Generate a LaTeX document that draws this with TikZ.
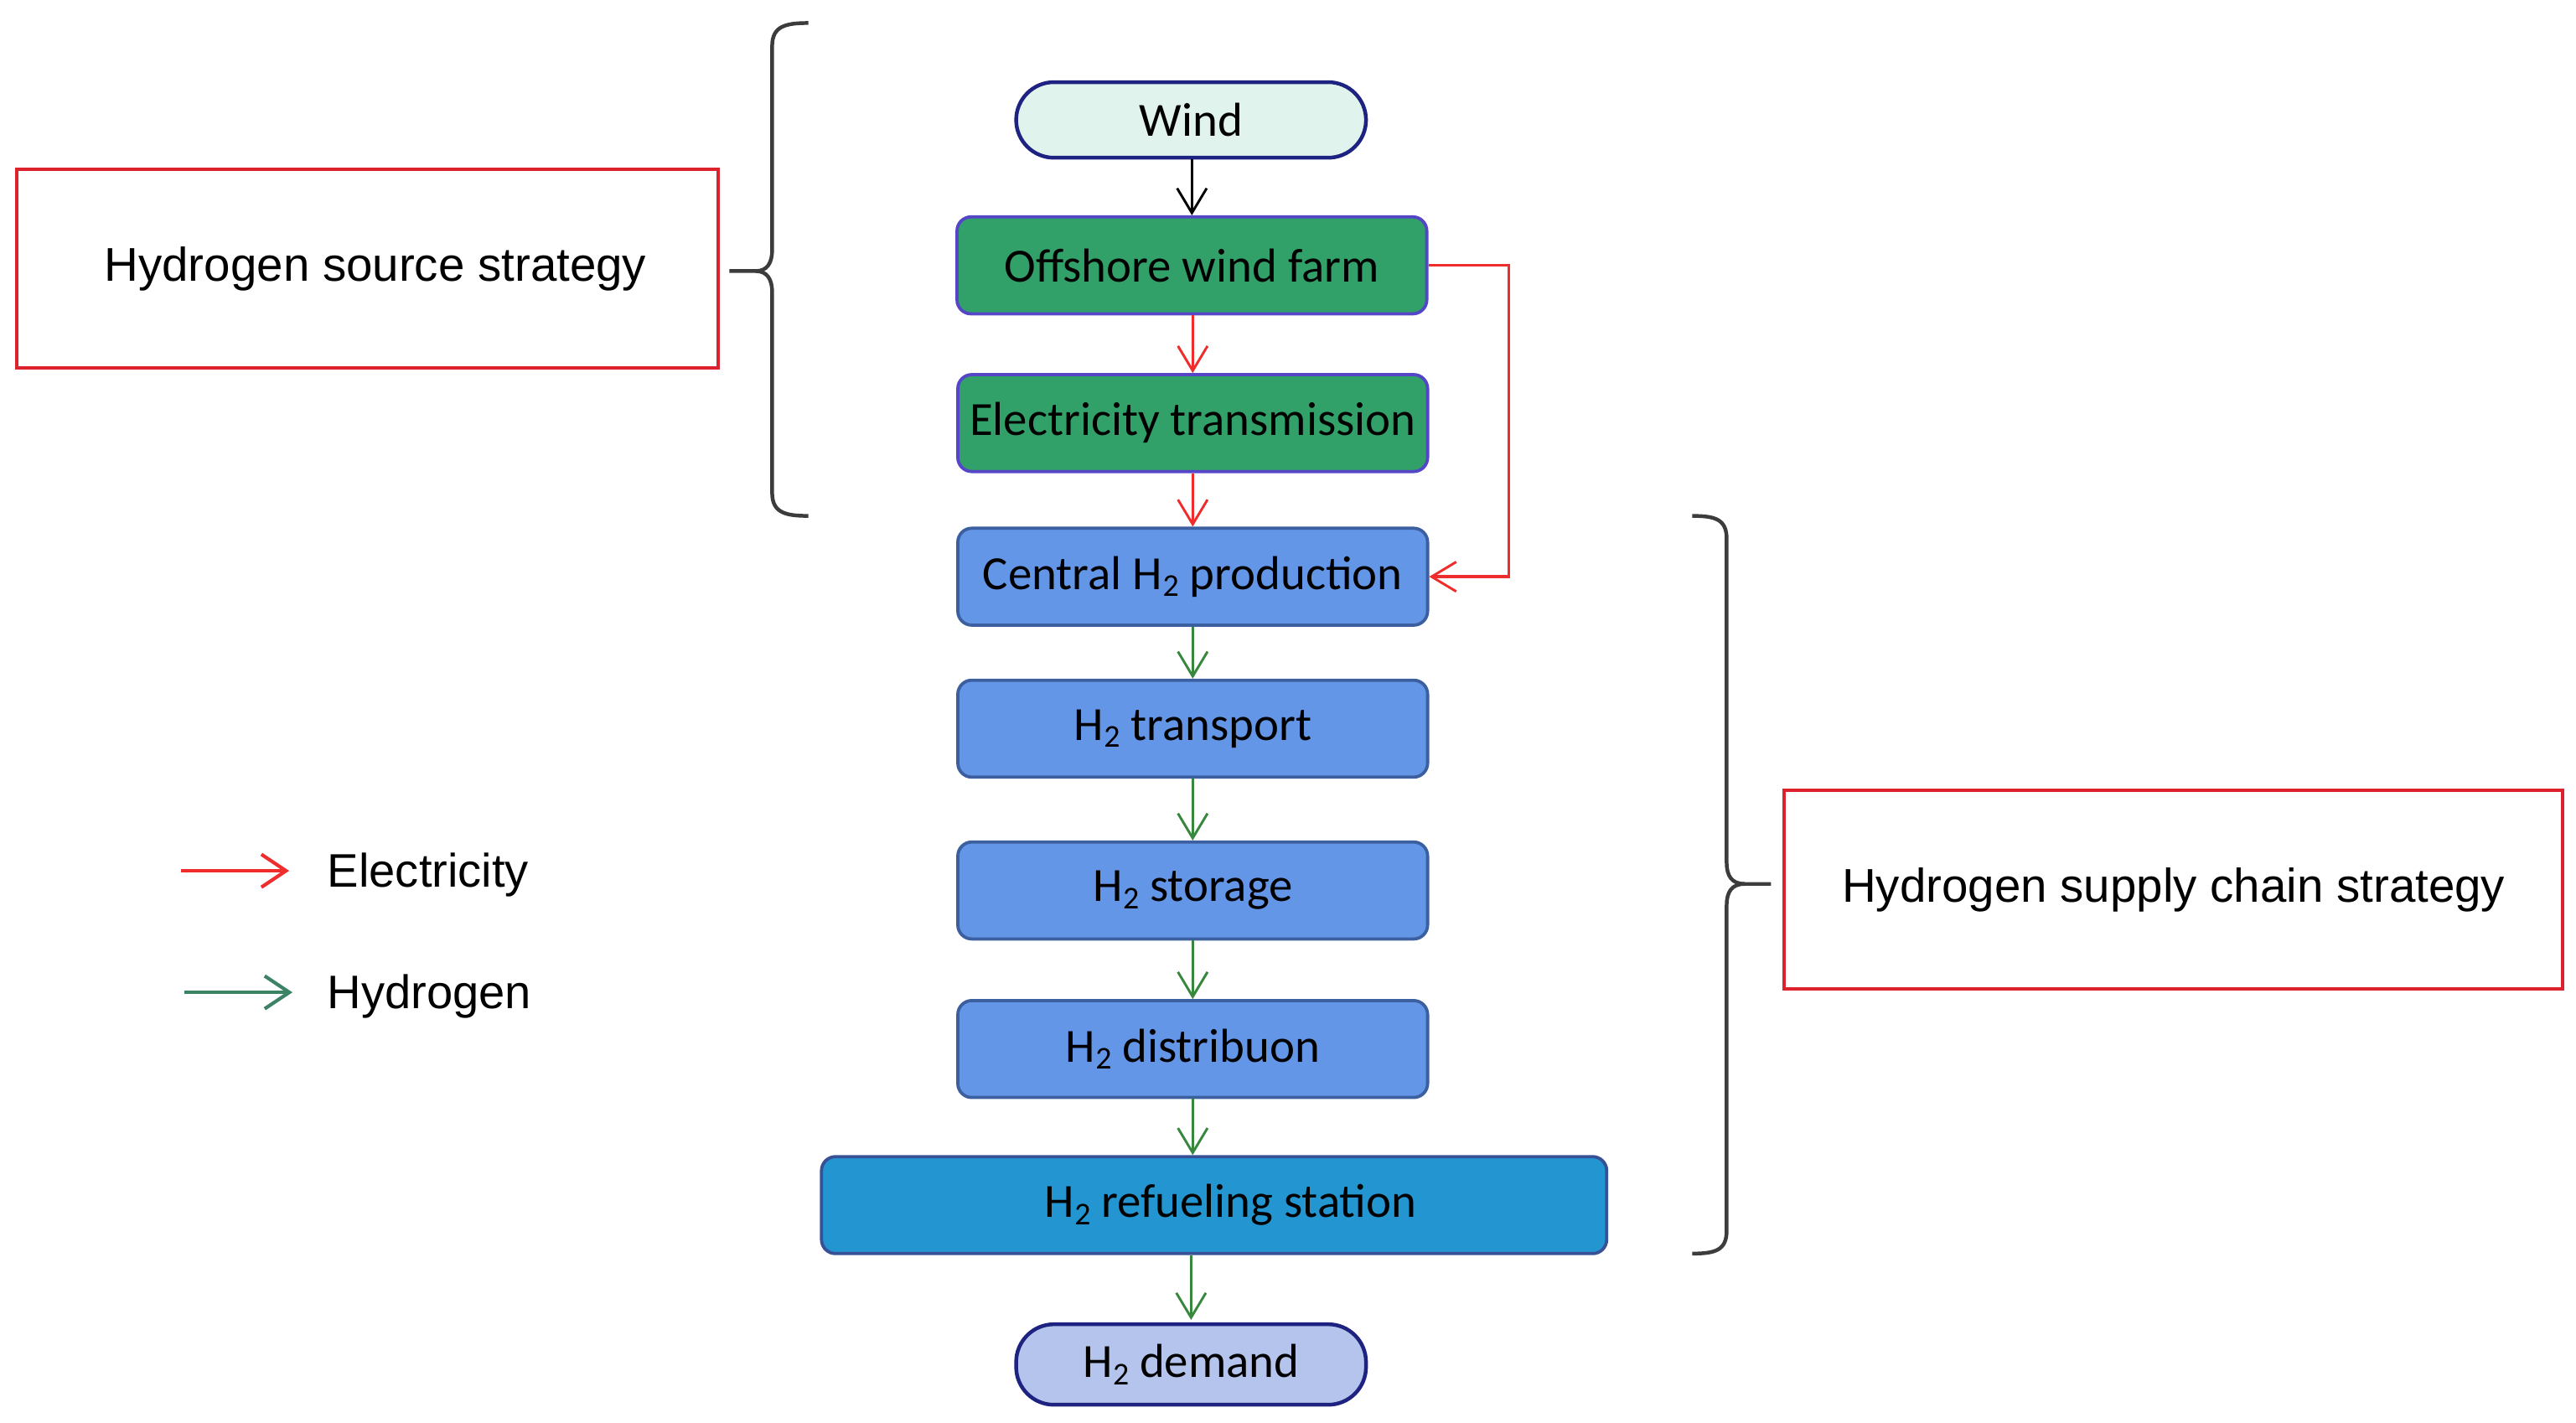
\documentclass[tikz,border=0pt]{standalone}
\usepackage{fontspec}
\setmainfont{Carlito}
\newfontfamily\arialf{Liberation Sans}
\usetikzlibrary{arrows.meta}

\definecolor{gfill}{RGB}{50,160,105}
\definecolor{gborder}{RGB}{85,70,200}
\definecolor{bfill}{RGB}{100,150,232}
\definecolor{bborder}{RGB}{60,95,160}
\definecolor{rfill}{RGB}{35,150,210}
\definecolor{rborder}{RGB}{55,80,150}
\definecolor{windfill}{RGB}{225,243,237}
\definecolor{demfill}{RGB}{180,196,236}
\definecolor{pillborder}{RGB}{30,35,130}
\definecolor{elred}{RGB}{240,45,45}
\definecolor{hygreen}{RGB}{55,135,60}
\definecolor{leggreen}{RGB}{60,130,100}
\definecolor{boxred}{RGB}{220,35,45}
\definecolor{bracegray}{RGB}{60,60,60}

\newcommand{\Htwo}{H\kern0.01em\raisebox{-0.32ex}{\fontsize{11}{11}\selectfont 2}}

\begin{document}
\begin{tikzpicture}[x=0.02cm,y=-0.02cm,
  every node/.style={font=\fontsize{16.5}{18}\selectfont, inner sep=0pt},
  flowbox/.style={draw, line width=1.1pt, rounded corners=0.17cm, minimum width=5.72cm, minimum height=1.18cm},
  greenbox/.style={flowbox, fill=gfill, draw=gborder},
  bluebox/.style={flowbox, fill=bfill, draw=bborder},
  pill/.style={draw=pillborder, line width=1.3pt, rounded corners=0.46cm, minimum width=4.26cm, minimum height=0.92cm},
  stratbox/.style={draw=boxred, line width=1.2pt, minimum height=2.42cm, font=\arialf\fontsize{16.4}{18}\selectfont},
  legtext/.style={anchor=west, font=\arialf\fontsize{16.3}{18}\selectfont},
  conn/.style={line width=0.85pt, -{Straight Barb[length=0.3cm, width=0.36cm, line width=0.85pt]}},
  legarrow/.style={line width=1.3pt, -{Straight Barb[length=0.3cm, width=0.4cm, line width=1.2pt]}},
  brace/.style={draw=bracegray, line width=1.3pt}
]
\useasboundingbox (0,0) rectangle (1568,866);

% flow nodes
\node[pill, fill=windfill] (wind) at (725,73) {Wind};
\node[greenbox] (off) at (725.5,161.5) {\raisebox{-0.04cm}{Offshore wind farm}};
\node[greenbox] (elec) at (726,257.5) {\raisebox{-0.03cm}{Electricity transmission}};
\node[bluebox] (cent) at (726,351) {Central \Htwo{} production};
\node[bluebox] (trans) at (726,443.5) {\Htwo{} transport};
\node[bluebox] (stor) at (726,542) {\Htwo{} storage};
\node[bluebox] (dist) at (726,638.5) {\Htwo{} distribuon};
\node[flowbox, fill=rfill, draw=rborder, minimum width=9.56cm] (refuel) at (739,733.5) {\hspace{0.4cm}\Htwo{} refueling station};
\node[pill, fill=demfill, minimum height=0.98cm] (demand) at (725,830.5) {\Htwo{} demand};

% connectors
\draw[conn, black] (off.north |- wind.south) -- (off.north);
\draw[conn, elred] (elec.north |- off.south) -- (elec.north);
\draw[conn, elred] (cent.north |- elec.south) -- (cent.north);
\draw[conn, elred, line width=1pt] (off.east) -- ++(49,0) |- (cent.east);
\draw[conn, hygreen] (trans.north |- cent.south) -- (trans.north);
\draw[conn, hygreen] (stor.north |- trans.south) -- (stor.north);
\draw[conn, hygreen] (dist.north |- stor.south) -- (dist.north);
\draw[conn, hygreen] (dist.south) -- (dist.south |- refuel.north);
\draw[conn, hygreen] (demand.north |- refuel.south) -- ([yshift=0.03cm]demand.north);

% strategy boxes
\node[stratbox, minimum width=8.54cm] (src) at (223.5,163.5) {\hspace{0.2cm}\raisebox{-0.08cm}{Hydrogen source strategy}};
\node[stratbox, minimum width=9.48cm] (sup) at (1323,541.5) {\raisebox{-0.02cm}{Hydrogen supply chain strategy}\hspace{0.1cm}};

% braces
\draw[brace] (492,14) .. controls (478,14) and (470,16) .. (470,28) -- (470,152)
  .. controls (470,160) and (467,165) .. (460,165) -- (444,165);
\draw[brace] (460,165) .. controls (467,165) and (470,170) .. (470,178) -- (470,300)
  .. controls (470,312) and (478,314) .. (492,314);
\draw[brace] (1030,314) .. controls (1044,314) and (1051,316) .. (1051,328) -- (1051,525)
  .. controls (1051,533) and (1054,538) .. (1062,538) -- (1078,538);
\draw[brace] (1062,538) .. controls (1054,538) and (1051,543) .. (1051,551) -- (1051,749)
  .. controls (1051,761) and (1044,763) .. (1030,763);

% legend
\coordinate (le1s) at (110,530);
\coordinate (le1e) at (176,530);
\coordinate (le2s) at (112,604);
\coordinate (le2e) at (178,604);
\draw[legarrow, elred] (le1s) -- (le1e);
\draw[legarrow, leggreen] (le2s) -- (le2e);
\node[legtext] (legel) at (199,532.5) {Electricity};
\node[legtext] (leghy) at (199,606.5) {Hydrogen};
\end{tikzpicture}
\end{document}
